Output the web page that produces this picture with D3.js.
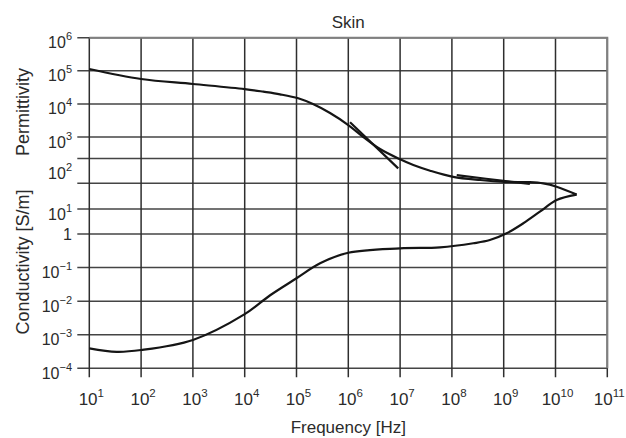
<!DOCTYPE html>
<html>
<head>
<meta charset="utf-8">
<script src="https://cdn.jsdelivr.net/npm/d3@7"></script>
<style>
  body { margin: 0; background: #fff; }
  text { font-family: "Liberation Sans", Arial, sans-serif; fill: #2b2b2b; }
</style>
</head>
<body>
<svg id="chart" width="626" height="438"></svg>
<script>
// frequency decades on the x axis (10^1 .. 10^11)
const freqExps = [1, 2, 3, 4, 5, 6, 7, 8, 9, 10, 11];
// y tick labels (log10 of value), permittivity on top, conductivity below
const yLabelExps = [6, 5, 4, 3, 2, 1, 0, -1, -2, -3, -4];
// horizontal grid lines as drawn in the source figure (log10 units)
const yGridExps = [6, 5, 4, 3, 2.31, 1.63, 1, 0, -1, -2, -3, -4];

// permittivity of skin
const permFreq = [10, 100, 1e3, 1e4, 2.29e4, 4.8e4, 1.08e5, 2.08e5, 4.44e5, 1e6, 1.95e6, 4.1e6, 1e7,
  1.8e7, 3.8e7, 1.06e8, 3.5e8, 1.06e9, 3.2e9, 5.8e9, 1.05e10, 2.56e10];
const permVal = [1.13e5, 5.65e4, 4.0e4, 2.8e4, 2.34e4, 1.95e4, 1.48e4, 9.9e3, 5.3e3, 2.3e3, 1000, 410, 191,
  125, 86, 61, 51, 46, 45, 42, 35, 22.5];

// short overlapping permittivity segments
const permSeg1Freq = [1.08e6, 9.2e6];
const permSeg1Val = [2800, 98];
const permSeg2Freq = [1.24e8, 1.4e9, 3.2e9];
const permSeg2Val = [67, 46, 41];

// conductivity of skin [S/m]
const condFreq = [10, 33.8, 100, 1e3, 1e4, 3.1e4, 1e5, 2.85e5, 1e6, 1e7, 5.9e7, 2.59e8, 5.4e8,
  1.14e9, 2.39e9, 5e9, 1.05e10, 2.56e10];
const condVal = [3.94e-4, 3.1e-4, 3.5e-4, 7.0e-4, 4.1e-3, 1.5e-2, 4.8e-2, 0.134, 0.277, 0.375, 0.40, 0.53, 0.66,
  1.07, 2.68, 7.8, 16.6, 22.5];

const svg = d3.select("#chart");
const plot = { left: 89.3, right: 607.3, top: 37.7, bottom: 368.3 };

const x = d3.scaleLog().domain([10, 1e11]).range([plot.left, plot.right]);
// the source figure squeezes the middle decades, so the y scale is piecewise in log10 units
const y = d3.scaleLinear()
  .domain([6, 3, 2, 1, 0, -4])
  .range([plot.top, 137, 168, 209, 234, plot.bottom]);

const g = svg.append("g");

// horizontal grid lines (with short tick extension on the left)
g.selectAll(".hgrid")
  .data(yGridExps)
  .enter()
  .append("line")
  .attr("class", "hgrid")
  .attr("x1", plot.left - 12)
  .attr("x2", plot.right)
  .attr("y1", (d) => y(d))
  .attr("y2", (d) => y(d))
  .attr("stroke", "#444")
  .attr("stroke-width", 1.5);

// vertical grid lines (extend below the plot as ticks)
g.selectAll(".vgrid")
  .data(freqExps)
  .enter()
  .append("line")
  .attr("class", "vgrid")
  .attr("x1", (d) => x(Math.pow(10, d)))
  .attr("x2", (d) => x(Math.pow(10, d)))
  .attr("y1", plot.top)
  .attr("y2", plot.bottom + 9)
  .attr("stroke", "#2e2e2e")
  .attr("stroke-width", 1.5);

// frame top / right in lighter grey
g.append("path")
  .attr("d", `M${plot.left},${plot.top}H${plot.right}V${plot.bottom}`)
  .attr("fill", "none")
  .attr("stroke", "#808080")
  .attr("stroke-width", 2);

// x tick labels 10^n
const xl = g.selectAll(".xlab")
  .data(freqExps)
  .enter()
  .append("text")
  .attr("class", "xlab")
  .attr("x", (d) => x(Math.pow(10, d)) + 2)
  .attr("y", 405)
  .attr("text-anchor", "middle")
  .style("font-size", "17px");
xl.append("tspan").text("10");
xl.append("tspan").attr("dy", -8).style("font-size", "11.5px").text((d) => d);

// y tick labels
const yl = g.selectAll(".ylab")
  .data(yLabelExps)
  .enter()
  .append("text")
  .attr("class", "ylab")
  .attr("x", 72)
  .attr("y", (d) => (d === 0 ? y(d) + 6 : y(d) + 10.5))
  .attr("text-anchor", "end")
  .style("font-size", "16px");
yl.append("tspan").text((d) => (d === 0 ? "1" : "10"));
yl.filter((d) => d !== 0)
  .append("tspan")
  .attr("dy", -8)
  .style("font-size", "11px")
  .text((d) => (d < 0 ? "\u2212" + Math.abs(d) : d));

// curves
const line = d3
  .line()
  .x((d) => x(d[0]))
  .y((d) => y(Math.log10(d[1])))
  .curve(d3.curveCatmullRom.alpha(0.5));

function drawCurve(fs, vs) {
  g.append("path")
    .datum(d3.zip(fs, vs))
    .attr("fill", "none")
    .attr("stroke", "#151515")
    .attr("stroke-width", 2.2)
    .attr("d", line);
}
drawCurve(permFreq, permVal);
drawCurve(permSeg1Freq, permSeg1Val);
drawCurve(permSeg2Freq, permSeg2Val);
drawCurve(condFreq, condVal);

// titles
svg.append("text")
  .attr("x", (plot.left + plot.right) / 2)
  .attr("y", 28)
  .attr("text-anchor", "middle")
  .style("font-size", "17px")
  .text("Skin");

svg.append("text")
  .attr("x", (plot.left + plot.right) / 2)
  .attr("y", 433)
  .attr("text-anchor", "middle")
  .style("font-size", "17px")
  .text("Frequency [Hz]");

svg.append("text")
  .attr("transform", "translate(29,112) rotate(-90)")
  .attr("text-anchor", "middle")
  .style("font-size", "18px")
  .text("Permittivity");

svg.append("text")
  .attr("transform", "translate(29,262) rotate(-90)")
  .attr("text-anchor", "middle")
  .style("font-size", "18px")
  .text("Conductivity [S/m]");
</script>
</body>
</html>
